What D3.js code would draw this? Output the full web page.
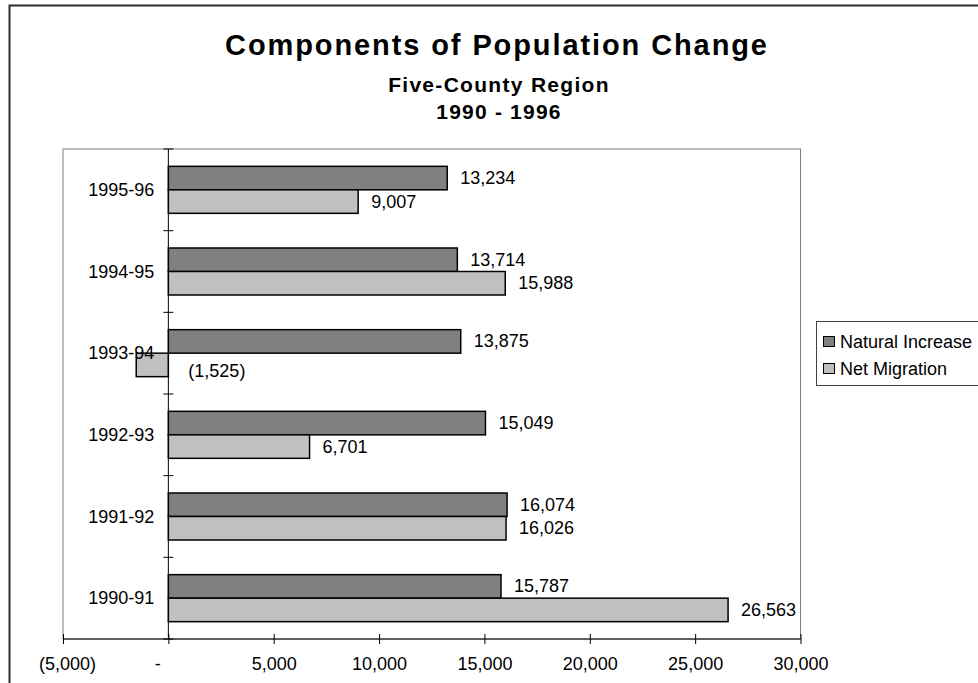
<!DOCTYPE html>
<html>
<head>
<meta charset="utf-8">
<script src="https://cdn.jsdelivr.net/npm/d3@7"></script>
<style>
  body { margin: 0; background: #fff; }
  text { font-family: "Liberation Sans", Arial, sans-serif; fill: #000; }
</style>
</head>
<body>
<div id="chart"></div>
<script>
var width = 978, height = 683;

var periods = ["1995-96", "1994-95", "1993-94", "1992-93", "1991-92", "1990-91"];
var seriesNames = ["Natural Increase", "Net Migration"];
var naturalIncrease = [13234, 13714, 13875, 15049, 16074, 15787];
var netMigration = [9007, 15988, -1525, 6701, 16026, 26563];
var xTicks = [-5000, 0, 5000, 10000, 15000, 20000, 25000, 30000];
var colours = ["#808080", "#c0c0c0"];

var plot = {left: 63, top: 149, right: 800.5, bottom: 639};

var svg = d3.select("#chart").append("svg")
  .attr("width", width)
  .attr("height", height);

// outer chart border (runs off the right/bottom like the original)
svg.append("rect")
  .attr("x", 9.5).attr("y", 5.5)
  .attr("width", 1000).attr("height", 700)
  .attr("fill", "none")
  .attr("stroke", "#2b2b2b")
  .attr("stroke-width", 2);

// titles
svg.append("text")
  .attr("x", 497).attr("y", 55)
  .attr("text-anchor", "middle")
  .style("font-size", "29px").style("font-weight", "bold")
  .style("letter-spacing", "1.9px")
  .text("Components of Population Change");
svg.append("text")
  .attr("x", 499).attr("y", 92)
  .attr("text-anchor", "middle")
  .style("font-size", "21px").style("font-weight", "bold")
  .style("letter-spacing", "1.3px")
  .text("Five-County Region");
svg.append("text")
  .attr("x", 499).attr("y", 119)
  .attr("text-anchor", "middle")
  .style("font-size", "21px").style("font-weight", "bold")
  .style("letter-spacing", "1.2px")
  .text("1990 - 1996");

var x = d3.scaleLinear()
  .domain([-5000, 30000])
  .range([plot.left, plot.right]);

var y = d3.scaleBand()
  .domain(periods)
  .range([plot.top, plot.bottom])
  .padding(0);

var yInner = d3.scaleBand()
  .domain(seriesNames)
  .range([0, y.bandwidth()])
  .paddingInner(0)
  .paddingOuter(0.738);

// plot area border
svg.append("rect")
  .attr("x", plot.left).attr("y", plot.top)
  .attr("width", plot.right - plot.left)
  .attr("height", plot.bottom - plot.top)
  .attr("fill", "none")
  .attr("stroke", "#808080");

var rows = periods.map(function(p, i) {
  return [
    {period: p, series: seriesNames[0], value: naturalIncrease[i], c: 0},
    {period: p, series: seriesNames[1], value: netMigration[i], c: 1}
  ];
});
var bars = [].concat.apply([], rows);

var fmt = d3.format(",");
function acct(v) {
  if (v < 0) return "(" + fmt(-v) + ")";
  if (v === 0) return "-";
  return fmt(v);
}

svg.append("g")
  .selectAll("rect")
  .data(bars)
  .enter()
  .append("rect")
  .attr("x", function(d) { return x(Math.min(0, d.value)); })
  .attr("y", function(d) { return y(d.period) + yInner(d.series); })
  .attr("width", function(d) { return Math.abs(x(d.value) - x(0)); })
  .attr("height", yInner.bandwidth())
  .attr("fill", function(d) { return colours[d.c]; })
  .attr("stroke", "#000")
  .attr("stroke-width", 1.5);

// value labels
svg.append("g")
  .selectAll("text")
  .data(bars)
  .enter()
  .append("text")
  .attr("x", function(d) { return d.value < 0 ? x(0) + 20 : x(d.value) + 13; })
  .attr("y", function(d) { return y(d.period) + yInner(d.series) + yInner.bandwidth() / 2 + (d.value < 0 ? 12 : 6); })
  .style("font-size", "18px")
  .text(function(d) { return acct(d.value); });

// x axis, ticks cross the line
var xAxis = svg.append("g")
  .attr("transform", "translate(0," + plot.bottom + ")")
  .call(d3.axisBottom(x).tickValues(xTicks).tickSize(5).tickPadding(0).tickFormat(acct));
xAxis.select(".domain").attr("stroke", "#000").attr("d", "M" + plot.left + ",0H" + plot.right);
xAxis.selectAll(".tick line").attr("y1", -5).attr("y2", 5).attr("stroke", "#000");
xAxis.selectAll(".tick text")
  .attr("y", 31)
  .attr("dy", null)
  .attr("dx", function(d) { return d < 0 ? 4 : (d === 0 ? -11 : 0); })
  .style("font-family", "'Liberation Sans', Arial, sans-serif")
  .style("font-size", "18px")
  .attr("fill", "#000");

// y axis at zero with crossing ticks on band edges
var yAxis = svg.append("g");
yAxis.append("line")
  .attr("x1", x(0)).attr("x2", x(0))
  .attr("y1", plot.top).attr("y2", plot.bottom)
  .attr("stroke", "#000");
var edges = periods.map(function(p) { return y(p); }).concat([plot.bottom]);
yAxis.selectAll("line.tk")
  .data(edges)
  .enter()
  .append("line")
  .attr("class", "tk")
  .attr("x1", x(0) - 5).attr("x2", x(0) + 5)
  .attr("y1", function(d) { return d; })
  .attr("y2", function(d) { return d; })
  .attr("stroke", "#000");
yAxis.selectAll("text")
  .data(periods)
  .enter()
  .append("text")
  .attr("x", x(0) - 14)
  .attr("y", function(d) { return y(d) + y.bandwidth() / 2 + 6; })
  .attr("text-anchor", "end")
  .style("font-size", "18px")
  .text(function(d) { return d; });

// legend
var legend = svg.append("g").attr("transform", "translate(816,321)");
legend.append("rect")
  .attr("x", 0.5).attr("y", 0.5)
  .attr("width", 200).attr("height", 64)
  .attr("fill", "#fff")
  .attr("stroke", "#404040");
var items = legend.selectAll("g.item")
  .data(seriesNames)
  .enter()
  .append("g")
  .attr("class", "item")
  .attr("transform", function(d, i) { return "translate(0," + (i * 27) + ")"; });
items.append("rect")
  .attr("x", 7.5).attr("y", 15.5)
  .attr("width", 11).attr("height", 10)
  .attr("fill", function(d, i) { return colours[i]; })
  .attr("stroke", "#000");
items.append("text")
  .attr("x", 24).attr("y", 27)
  .style("font-size", "18px")
  .text(function(d) { return d; });
</script>
</body>
</html>
